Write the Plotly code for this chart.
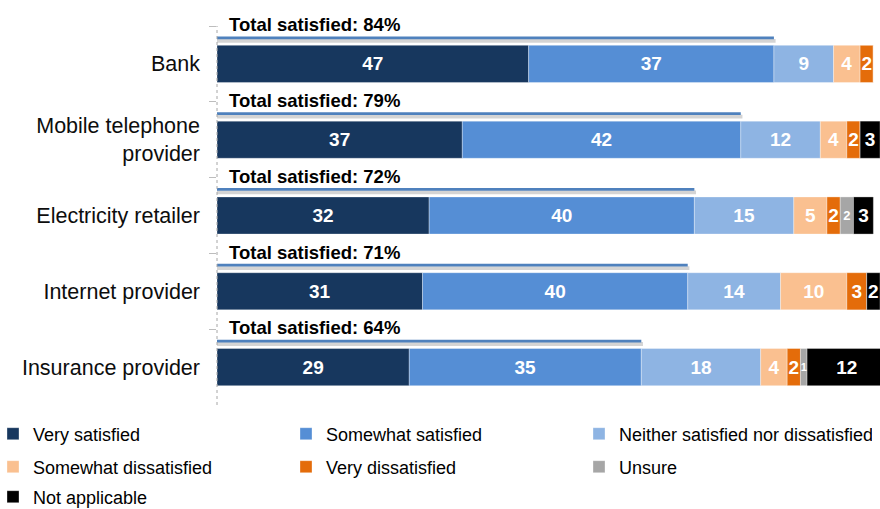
import numpy as np
import plotly.graph_objects as go

# Providers, top to bottom
categories = [
    "Bank",
    "Mobile telephone<br>provider",
    "Electricity retailer",
    "Internet provider",
    "Insurance provider",
]

series_names = [
    "Very satisfied",
    "Somewhat satisfied",
    "Neither satisfied nor dissatisfied",
    "Somewhat dissatisfied",
    "Very dissatisfied",
    "Unsure",
    "Not applicable",
]

# Share of respondents (%) per provider
very_satisfied = [47, 37, 32, 31, 29]
somewhat_satisfied = [37, 42, 40, 40, 35]
neither = [9, 12, 15, 14, 18]
somewhat_dissatisfied = [4, 4, 5, 10, 4]
very_dissatisfied = [2, 2, 2, 3, 2]
unsure = [0, 0, 2, 0, 1]
not_applicable = [0, 3, 3, 2, 12]

series_values = [
    very_satisfied,
    somewhat_satisfied,
    neither,
    somewhat_dissatisfied,
    very_dissatisfied,
    unsure,
    not_applicable,
]

series_colors = ["#17375E", "#558ED5", "#8EB4E3", "#FAC090", "#E46C0A", "#A6A6A6", "#000000"]
legend_rows = ["legend", "legend", "legend", "legend2", "legend2", "legend2", "legend3"]

# Label size for the narrow "Unsure" slivers
unsure_label_sizes = [19, 19, 13, 19, 11]

total_satisfied = (np.array(very_satisfied) + np.array(somewhat_satisfied)).tolist()

FONT = "Liberation Sans, Arial, sans-serif"

fig = go.Figure()

# Thin "total satisfied" bar with a soft shadow underneath
fig.add_trace(go.Bar(
    y=categories, x=[t + 0.25 for t in total_satisfied], orientation="h",
    width=0.05, offset=-0.33, marker=dict(color="#D4D4D4", line=dict(width=0)),
    showlegend=False, hoverinfo="skip",
))
fig.add_trace(go.Bar(
    y=categories, x=total_satisfied, orientation="h",
    width=0.036, offset=-0.362, marker=dict(color="#4F81BD", line=dict(width=0)),
    showlegend=False, hoverinfo="skip",
))

# Stacked response segments
base = np.zeros(len(categories))
for name, vals, color, lg in zip(series_names, series_values, series_colors, legend_rows):
    vals_arr = np.array(vals, dtype=float)
    labels = [str(v) if v else "" for v in vals]
    sizes = unsure_label_sizes if name == "Unsure" else [19] * len(vals)
    fig.add_trace(go.Bar(
        name=name, y=categories, x=vals, base=base.tolist(), orientation="h",
        width=0.49,
        marker=dict(color=color, line=dict(width=0.6, color="rgba(255,255,255,0.55)")),
        text=labels, textposition="inside", insidetextanchor="middle",
        constraintext="none", textangle=0,
        textfont=dict(family=FONT, color="white", size=sizes, weight="bold"),
        legend=lg,
    ))
    base = base + vals_arr

# "Total satisfied" captions above each row
for i, t in enumerate(total_satisfied):
    fig.add_annotation(
        x=0, y=i - 0.49, xref="x", yref="y", xanchor="left", yanchor="middle",
        xshift=10, yshift=2, text=f"Total satisfied: {t}%", showarrow=False,
        font=dict(family=FONT, size=18.5, color="#000000", weight="bold"),
    )

# Dotted category axis line
fig.add_shape(type="line", xref="paper", yref="paper", x0=0, x1=0, y0=0, y1=1,
              line=dict(color="#A6A6A6", width=1, dash="dot"), layer="above")

# Legend laid out as three rows under the plot
PLOT_L, PLOT_W, PLOT_T, PLOT_H = 217, 663, 26, 379


def paper_y(px):
    return 1 - (px - PLOT_T) / PLOT_H


legend_common = dict(
    orientation="h", xref="paper", yref="paper", x=-(PLOT_L + 7) / PLOT_W,
    xanchor="left", yanchor="middle", entrywidth=248, entrywidthmode="pixels",
    font=dict(family=FONT, size=18, color="#000000"),
    bgcolor="rgba(0,0,0,0)", borderwidth=0, traceorder="normal",
)

fig.update_layout(
    width=880, height=509,
    margin=dict(l=PLOT_L, r=0, t=PLOT_T, b=509 - PLOT_T - PLOT_H, autoexpand=False),
    barmode="overlay",
    plot_bgcolor="white", paper_bgcolor="white",
    font=dict(family=FONT, color="#000000"),
    xaxis=dict(range=[0, 100], visible=False),
    yaxis=dict(
        type="category", categoryorder="array", categoryarray=categories,
        range=[4.5, -0.5], tickson="boundaries", ticks="outside", ticklen=7,
        tickcolor="#BDBDBD", tickwidth=1, showgrid=False, zeroline=False,
        showline=False, ticklabelstandoff=16,
        tickfont=dict(family=FONT, size=21.5, color="#0D0D0D"),
    ),
    legend=dict(y=paper_y(434), **legend_common),
    legend2=dict(y=paper_y(467), **legend_common),
    legend3=dict(y=paper_y(497), **legend_common),
)

fig.write_html("out.html")
